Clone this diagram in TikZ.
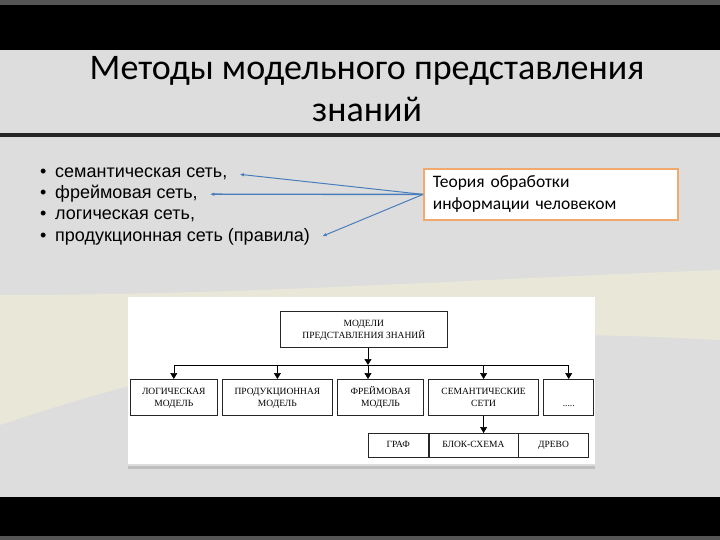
\documentclass[tikz,border=0pt]{standalone}
\usepackage{fontspec}
\setmainfont{Carlito}
\newfontfamily\arialfont{Liberation Sans}
\newfontfamily\timesfont{Liberation Serif}
\usetikzlibrary{arrows.meta,positioning}
\definecolor{slidegray}{HTML}{DDDDDD}
\definecolor{edgegray}{HTML}{555555}
\definecolor{linkblue}{HTML}{4A7EBB}
\definecolor{boxorange}{HTML}{F2A96E}
\definecolor{swoosh}{HTML}{F1EFD6}
\tikzset{
  heading/.style={anchor=north, inner sep=0pt, align=center, font=\fontsize{36}{42}\selectfont},
  item/.style={anchor=base west, inner sep=0pt, font=\arialfont\fontsize{18}{18}\selectfont},
  theory/.style={draw=boxorange, line width=1.8pt, fill=white, anchor=north west, minimum width=254pt, minimum height=51pt, text width=236pt, align=left, inner xsep=9pt, font=\fontsize{17.5}{22}\selectfont},
  model/.style={draw=black!85, line width=0.6pt, fill=white, align=center, minimum height=36pt, inner sep=1pt, text height=21pt, text depth=3pt, font=\timesfont\fontsize{9.5}{12}\selectfont},
  cell/.style={draw=black!85, line width=0.6pt, minimum height=24pt, inner sep=1pt, text height=7pt, text depth=2pt, font=\timesfont\fontsize{9.5}{11.5}\selectfont},
  link/.style={-{Latex[length=4.5pt,width=3.5pt]}, draw=linkblue, line width=1pt},
  tree/.style={-{Triangle[length=6pt,width=7pt]}, draw=black, line width=0.6pt}
}

\begin{document}
\begin{tikzpicture}[x=1pt, y=-1pt, node distance=4.5pt]
  \useasboundingbox (0,0) rectangle (720,540);
  % slide background
  \fill[slidegray] (0,0) rectangle (720,540);
  \fill[edgegray] (0,0) rectangle (720,5);
  \fill[black] (0,5) rectangle (720,50);
  \fill[black!85] (0,133) rectangle (720,137);
  \fill[black] (0,497) rectangle (720,536);
  \fill[edgegray] (0,536) rectangle (720,540);
  \fill[swoosh, opacity=0.6] (0,295) .. controls (250,295) and (450,280) .. (720,270)
    -- (720,340) .. controls (450,325) and (250,340) .. (0,425) -- cycle;

  % title
  \node[heading] (title) at (367,56) {Методы модельного представления\\знаний};

  % list of networks
  \node[item] (isem) at (40,178) {\makebox[15pt][l]{•}семантическая сеть,};
  \node[item] (ifrm) at (40,199) {\makebox[15pt][l]{•}фреймовая сеть,};
  \node[item] (ilog) at (40,220) {\makebox[15pt][l]{•}логическая сеть,};
  \node[item] (iprd) at (40,241) {\makebox[15pt][l]{•}продукционная сеть (правила)};

  \node[theory] (theory) at (423,168) {Теория обработки\\информации человеком};

  \draw[link] (theory.west) -- ([xshift=12pt]isem.east);
  \draw[link, line width=1.4pt] (theory.west) -- ([xshift=12pt]ifrm.east);
  \draw[link] (theory.west) -- ([xshift=12pt]iprd.east);

  % scanned scheme
  \fill[black!25] (128,466) rectangle (595,469);
  \fill[white] (128,297) rectangle (595,464);

  \node[model, minimum width=167pt, anchor=north west] (top) at (280,311) {МОДЕЛИ\\ПРЕДСТАВЛЕНИЯ ЗНАНИЙ};
  \node[model, minimum width=87pt, anchor=north west] (logic) at (130,379) {ЛОГИЧЕСКАЯ\\МОДЕЛЬ};
  \node[model, minimum width=110pt, right=of logic] (prod) {ПРОДУКЦИОННАЯ\\МОДЕЛЬ};
  \node[model, minimum width=86pt, right=of prod] (frame) {ФРЕЙМОВАЯ\\МОДЕЛЬ};
  \node[model, minimum width=110pt, right=of frame] (sem) {СЕМАНТИЧЕСКИЕ\\СЕТИ};
  \node[model, minimum width=50pt, right=of sem] (dots) {\phantom{М}\\.....};

  \node[cell, minimum width=60pt, anchor=north west] (graf) at (368,433) {ГРАФ};
  \node[cell, minimum width=89pt, right=0pt of graf] (blok) {БЛОК-СХЕМА};
  \node[cell, minimum width=70pt, right=0pt of blok] (drevo) {ДРЕВО};

  \coordinate (hub) at (368,365);
  \draw[tree] (hub |- top.south) -- (hub);
  \draw[line width=0.6pt] (logic.north |- hub) -- (dots.north |- hub);
  \foreach \b in {logic,prod,sem,dots}
    \draw[tree] (\b.north |- hub) -- (\b.north);
  \draw[tree] (hub) -- (hub |- frame.north);
  \draw[tree] (sem.south) -- (sem.south |- blok.north);
\end{tikzpicture}
\end{document}
